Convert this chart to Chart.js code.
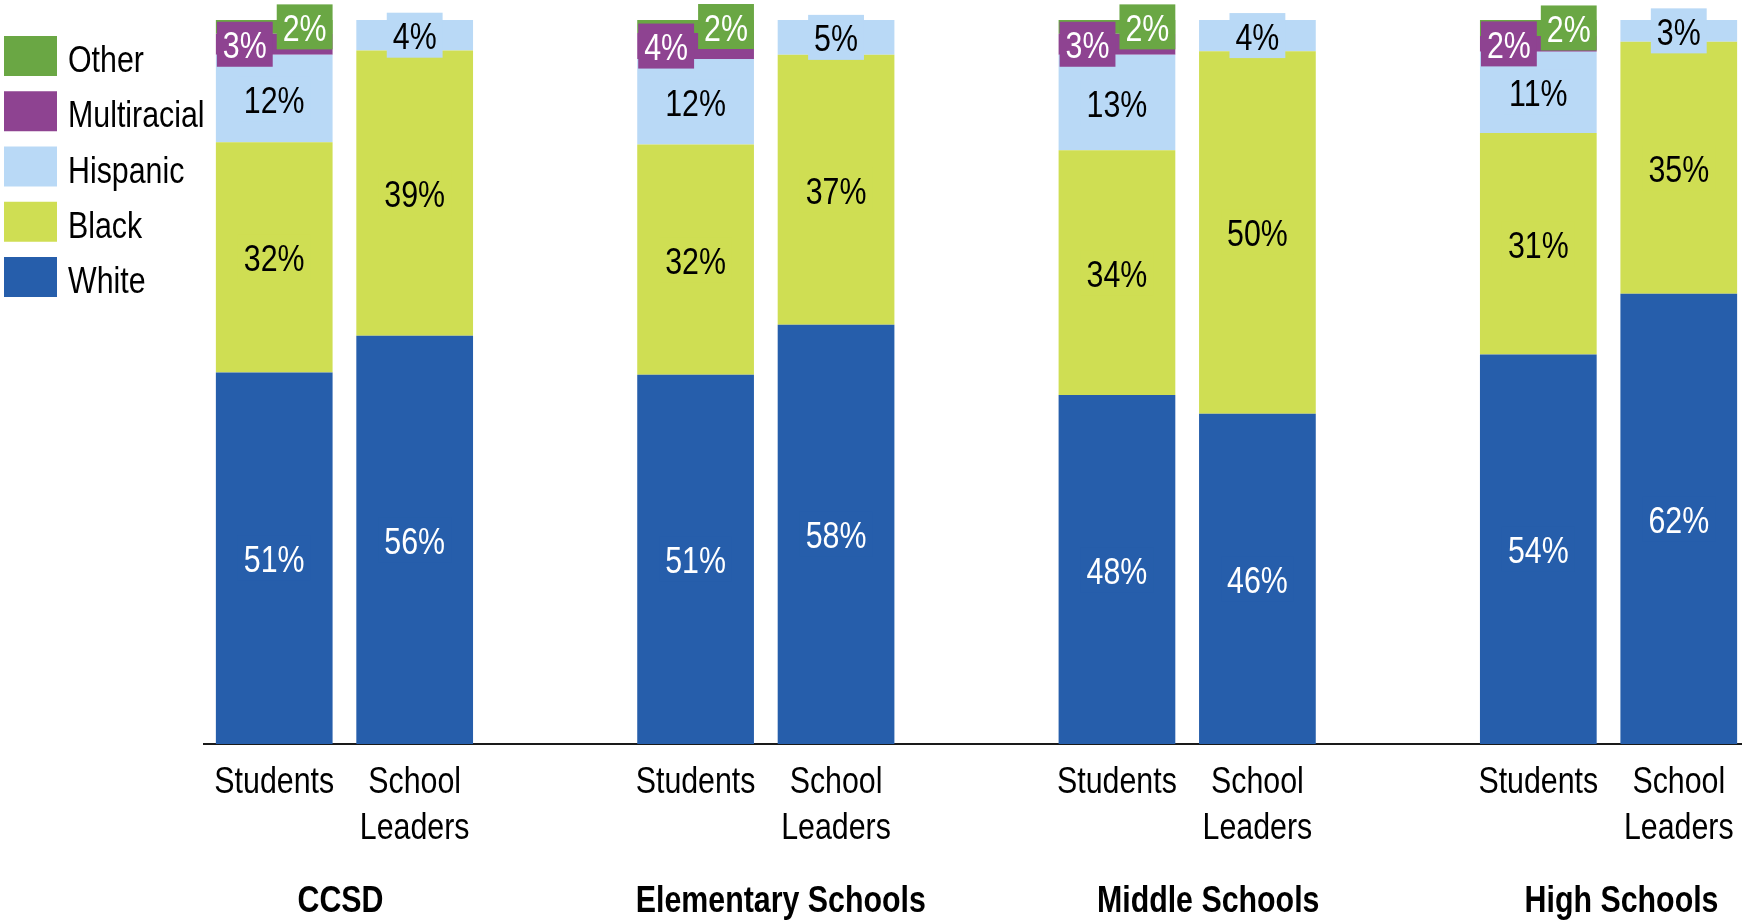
<!DOCTYPE html>
<html>
<head>
<meta charset="utf-8">
<script src="https://cdn.jsdelivr.net/npm/chart.js@4.4.0/dist/chart.umd.min.js"></script>
<style>
  html, body { margin: 0; padding: 0; background: #fff; overflow: hidden; }
  #wrap { position: relative; width: 1749px; height: 923px; }
</style>
</head>
<body>
<div id="wrap"><canvas id="chart"></canvas></div>
<script>
const groupNames = ["CCSD", "Elementary Schools", "Middle Schools", "High Schools"];
const barNames = ["Students", ["School", "Leaders"]];

// two values per group: students, school leaders
const white = [51.3, 56.4, 51.0, 57.9, 48.2, 45.6, 53.8, 62.2];
const black = [31.8, 39.4, 31.8, 37.3, 33.8, 50.1, 30.6, 34.8];
const hispanic = [12.1, 4.2, 11.8, 4.8, 13.2, 4.3, 11.2, 3.0];
const multiracial = [2.9, null, 3.6, null, 2.9, null, 2.2, null];
const other = [1.9, null, 1.8, null, 1.9, null, 2.2, null];

// the original uses a narrow face, so squeeze Liberation Sans
const FONT = "'Liberation Sans', Arial, sans-serif";
const SQUEEZE = 0.82;
const groupShift = [-4, 15, 21, 13];

function narrowText(ctx, txt, x, y) {
  ctx.save();
  ctx.translate(x, y);
  ctx.scale(SQUEEZE, 1);
  ctx.fillText(txt, 0, 0);
  ctx.restore();
}

// insert an empty slot between groups
function withGaps(arr) {
  const out = [];
  for (let g = 0; g < groupNames.length; g++) {
    out.push(arr[2 * g], arr[2 * g + 1]);
    if (g < groupNames.length - 1) out.push(null);
  }
  return out;
}

const labels = [];
groupNames.forEach((g, i) => {
  labels.push(barNames[0], barNames[1]);
  if (i < groupNames.length - 1) labels.push("");
});

const series = [
  { label: "White", data: white, color: "#265eab", text: "#fff" },
  { label: "Black", data: black, color: "#cfde53", text: "#000" },
  { label: "Hispanic", data: hispanic, color: "#b9d9f6", text: "#000" },
  { label: "Multiracial", data: multiracial, color: "#8e4391", text: "#fff" },
  { label: "Other", data: other, color: "#6aa744", text: "#fff" },
];

const textPlugin = {
  id: "texts",
  afterDatasetsDraw(chart) {
    const ctx = chart.ctx;
    ctx.save();
    ctx.font = "37px " + FONT;
    ctx.textAlign = "center";
    ctx.textBaseline = "alphabetic";
    chart.data.datasets.forEach((ds, i) => {
      const meta = chart.getDatasetMeta(i);
      meta.data.forEach((bar, j) => {
        const v = ds.data[j];
        if (v == null) return;
        const txt = Math.round(v) + "%";
        const w = ctx.measureText(txt).width * SQUEEZE + 12;
        const h = 45;
        const cy = (bar.y + bar.base) / 2;
        let cx = bar.x;
        if (ds.label === "Multiracial") cx = bar.x - bar.width / 2 + w / 2 + 1;
        if (ds.label === "Other") cx = bar.x + bar.width / 2 - w / 2;
        ctx.fillStyle = ds.backgroundColor;
        ctx.fillRect(cx - w / 2, cy - h / 2, w, h);
        ctx.fillStyle = series[i].text;
        narrowText(ctx, txt, cx, cy + 14);
      });
    });
    ctx.restore();
  },
  afterDraw(chart) {
    const ctx = chart.ctx;
    const x = chart.scales.x;
    ctx.save();
    ctx.fillStyle = "#000";
    ctx.textAlign = "center";
    ctx.textBaseline = "alphabetic";
    // category labels
    ctx.font = "37px " + FONT;
    chart.data.labels.forEach((lab, i) => {
      const lines = Array.isArray(lab) ? lab : [lab];
      const px = x.getPixelForValue(i);
      lines.forEach((line, k) => narrowText(ctx, line, px, 793 + k * 46));
    });
    // group names
    ctx.font = "bold 37px " + FONT;
    groupNames.forEach((name, g) => {
      const cx = (x.getPixelForValue(3 * g) + x.getPixelForValue(3 * g + 1)) / 2;
      narrowText(ctx, name, cx + groupShift[g], 912);
    });
    // legend, top item = last dataset
    ctx.font = "37px " + FONT;
    ctx.textAlign = "left";
    const items = chart.data.datasets.slice().reverse();
    items.forEach((ds, k) => {
      const top = 36 + k * 55.25;
      ctx.fillStyle = ds.backgroundColor;
      ctx.fillRect(4, top, 53, 40);
      ctx.fillStyle = "#000";
      narrowText(ctx, ds.label, 68, top + 36);
    });
    ctx.restore();
  },
};

new Chart(document.getElementById("chart"), {
  type: "bar",
  data: {
    labels: labels,
    datasets: series.map((s) => ({
      label: s.label,
      data: withGaps(s.data),
      backgroundColor: s.color,
      borderWidth: 0,
      barPercentage: 0.831,
      categoryPercentage: 1,
    })),
  },
  options: {
    responsive: true,
    maintainAspectRatio: false,
    animation: false,
    layout: { padding: { left: 204, top: 20, right: 0, bottom: 179 } },
    plugins: { legend: { display: false }, tooltip: { enabled: false } },
    scales: {
      x: {
        stacked: true,
        grid: { display: false, drawTicks: false },
        border: { display: true, color: "#1a1a1a", width: 2 },
        ticks: { display: false },
      },
      y: { stacked: true, display: false, min: 0, max: 100 },
    },
  },
  plugins: [textPlugin],
});
</script>
</body>
</html>
